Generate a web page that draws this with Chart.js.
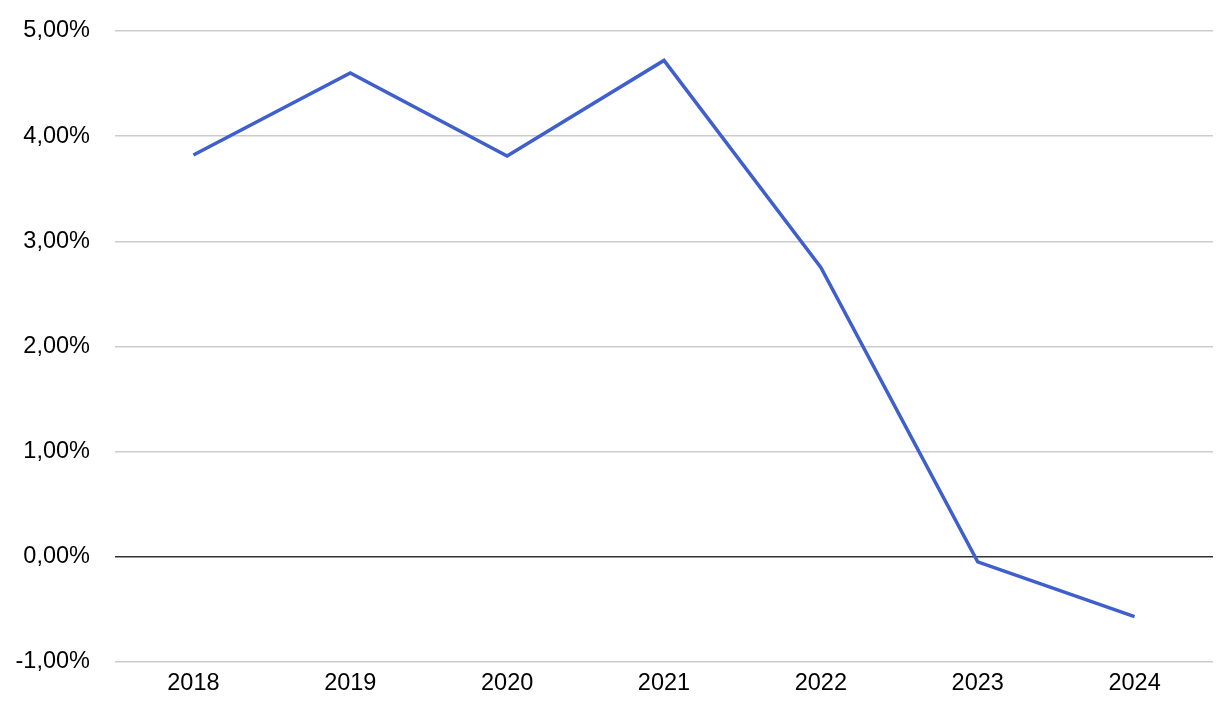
<!DOCTYPE html>
<html>
<head>
<meta charset="utf-8">
<script src="https://cdn.jsdelivr.net/npm/chart.js@4"></script>
<style>
  html, body { margin: 0; padding: 0; background: #fff; }
  #wrap { width: 1230px; height: 716px; }
</style>
</head>
<body>
<div id="wrap"><canvas id="graph"></canvas></div>
<script>
// dados
const years = ['2018', '2019', '2020', '2021', '2022', '2023', '2024'];
const rates = [3.82, 4.60, 3.81, 4.72, 2.75, -0.05, -0.57];
const yTicks = [-1, 0, 1, 2, 3, 4, 5];

function fmtPct(v) {
    return v.toFixed(2).replace('.', ',') + '%';
}

var ctx = document.getElementById('graph').getContext('2d');
var myChart = new Chart(ctx, {
    type: 'line',
    data: {
        labels: years,
        datasets: [{
            data: rates,
            borderColor: '#3f5fcc',
            borderWidth: 3.5,
            pointRadius: 0,
            pointHoverRadius: 0,
            tension: 0,
            fill: false
        }]
    },
    options: {
        responsive: true,
        maintainAspectRatio: false,
        animation: false,
        layout: {
            padding: { top: 31, right: 17, bottom: 10, left: 0 }
        },
        plugins: {
            legend: { display: false },
            tooltip: { enabled: false }
        },
        scales: {
            x: {
                offset: true,
                grid: { display: false, drawTicks: false },
                border: { display: false },
                ticks: {
                    color: '#000',
                    padding: 8,
                    font: { family: 'Liberation Sans, Arial, sans-serif', size: 23.5 }
                }
            },
            y: {
                min: -1,
                max: 5,
                afterBuildTicks: function(scale) {
                    scale.ticks = yTicks.map(v => ({ value: v }));
                },
                afterFit: function(scale) {
                    scale.width = 115;
                    // sem espaço extra em cima/baixo por causa do padding dos rótulos
                    scale.paddingTop = 0;
                    scale.paddingBottom = 0;
                },
                grid: {
                    drawTicks: false,
                    lineWidth: 1.5,
                    color: function(c) {
                        return c.tick && c.tick.value === 0 ? '#333333' : '#cccccc';
                    }
                },
                border: { display: false },
                ticks: {
                    color: '#000',
                    padding: 25,
                    font: { family: 'Liberation Sans, Arial, sans-serif', size: 23.5 },
                    callback: function(v) { return fmtPct(v); }
                }
            }
        }
    }
});
</script>
</body>
</html>
